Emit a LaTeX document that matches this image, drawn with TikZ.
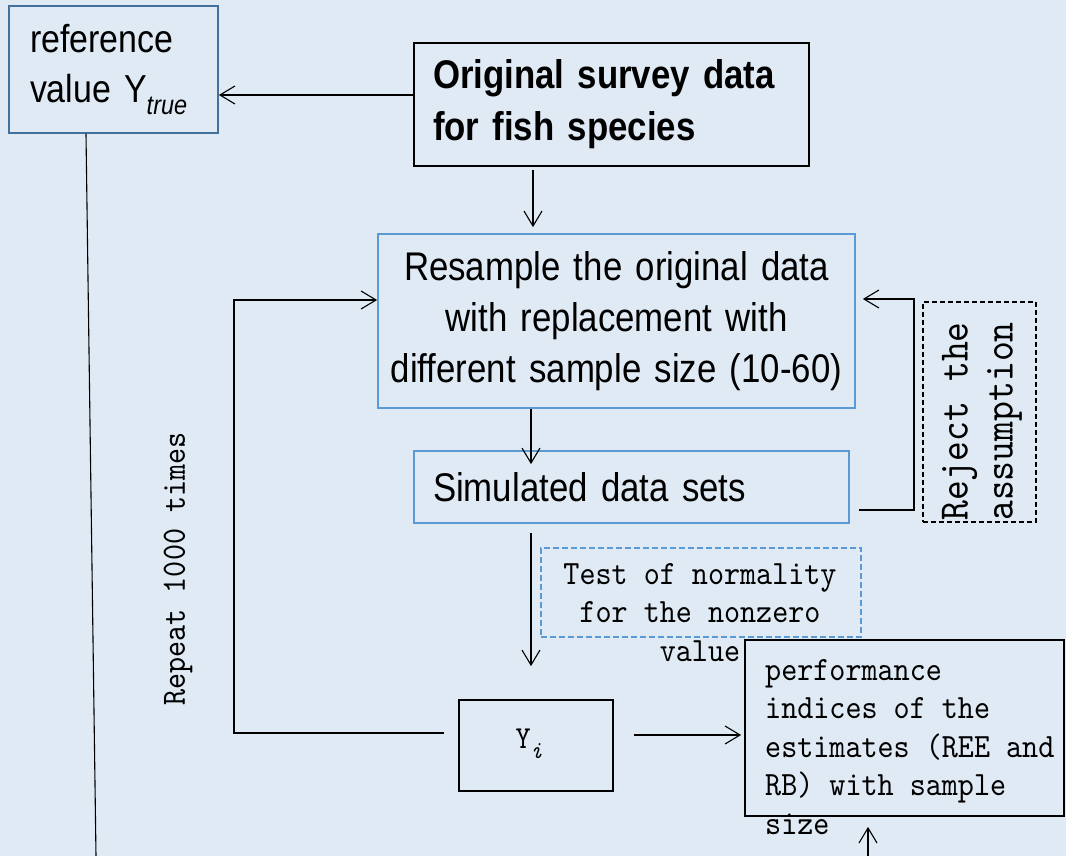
\documentclass[tikz,border=0pt]{standalone}
\usepackage{fontspec}
\setmainfont{Liberation Sans}
\newfontfamily\ns{Liberation Sans}[FakeStretch=0.87]
\newfontfamily\mo{lmmono10-regular.otf}[ItalicFont=lmmono10-italic.otf, FakeStretch=0.9]
\usetikzlibrary{arrows.meta}
\definecolor{bg}{HTML}{E0EAF4}
\definecolor{bluebd}{HTML}{5B9BD5}
\definecolor{darkbd}{HTML}{41719C}
\begin{document}
\begin{tikzpicture}[x=1pt,y=1pt,
  arr/.style={-{Straight Barb[length=15pt,width=18pt]}, line width=1.1pt},
  ln/.style={line width=1.1pt},
  box/.style={draw, line width=1.8pt, rectangle, inner ysep=0pt},
  dbox/.style={draw, line width=1.4pt, rectangle, inner sep=0pt, dash pattern=on 6pt off 3pt},
  sans/.style={font=\ns\fontsize{40}{51}\selectfont},
  mono/.style={font=\mo\fontsize{34}{38.5}\selectfont, inner sep=0pt}
]
\useasboundingbox[fill=bg] (0,0) rectangle (1066,-856);

% boxes
\node[box, draw=darkbd, minimum width=209, minimum height=127, inner xsep=21, text width=167, align=left,
      font=\ns\fontsize{39}{50}\selectfont] (ref) at (113.5,-69.5)
      {reference\\value Y\raisebox{-0.32em}{\fontsize{27}{27}\selectfont\itshape true}};
\node[box, draw=black, minimum width=395, minimum height=123, inner xsep=19, text width=357, align=left,
      font=\ns\bfseries\fontsize{40}{52}\selectfont] (orig) at (611.5,-104.5)
      {Original survey data\\for fish species};
\node[box, draw=bluebd, minimum width=477, minimum height=174, inner xsep=10, text width=457, align=center, sans] (res) at (616.5,-321)
      {Resample the original data\\with replacement with\\different sample size (10-60)};
\node[box, draw=bluebd, minimum width=435, minimum height=72, inner xsep=19, text width=397, align=left, sans] (sim) at (631.5,-487)
      {Simulated data sets};
\node[box, draw=black, minimum width=154, minimum height=91, font=\mo\fontsize{32}{32}\selectfont] (yi) at (536,-745.5)
      {\hspace*{-14pt}\raisebox{0.4em}{Y\raisebox{-0.3em}{\fontsize{25}{25}\selectfont\itshape i}}};
\node[box, draw=black, minimum width=319, minimum height=176] (perf) at (904.5,-728) {};
\node[dbox, draw=bluebd, minimum width=320, minimum height=89] (test) at (701,-592.5) {};
\node[dbox, draw=black, minimum width=113, minimum height=220, dash pattern=on 5pt off 3pt] (rej) at (979.5,-412) {};

% texts
\node[mono, anchor=north west, align=left] (perftxt) at (765,-659)
  {performance\\indices of the\\estimates (REE and\\RB) with sample\\size};
\node[mono, anchor=north, align=center] (testtxt) at (700,-563)
  {Test of normality\\for the nonzero\\value};
\node[mono, rotate=90, align=left, font=\mo\fontsize{42}{45}\selectfont] (rejtxt) at (982,-421.5)
  {Reject the\\assumption};
\node[mono, rotate=90] (rep) at (178,-569) {Repeat 1000 times};

% helper coordinates
\coordinate (c1) at (533,0);
\coordinate (c2) at (531,0);
\coordinate (r1) at (0,-735);
\coordinate (r2) at (0,-733);
\coordinate (r3) at (0,-510);
\coordinate (lp) at (234,-300);
\coordinate (rp) at (914,-299);
\coordinate (pb) at (868,-856);
\coordinate (c86) at (86,0);
\coordinate (rb) at (96,-856);

% connectors
\draw[arr] ([yshift=9.5pt]orig.west) -- ([yshift=9.5pt]orig.west -| ref.east);
\draw[arr, shorten <=3pt, shorten >=6pt] (orig.south -| c1) -- (res.north -| c1);
\draw[arr, shorten >=-14pt] (res.south -| c2) -- (sim.north -| c2);
\draw[arr, shorten <=9pt, shorten >=33pt] (sim.south -| c2) -- (yi.north -| c2);
\draw[arr, shorten <=20pt, shorten >=3pt] (yi.east |- r1) -- (perf.west |- r1);
\draw[arr, shorten <=14pt] (yi.west |- r2) -| (lp) -- (res.west |- lp);
\draw[arr, shorten <=9pt, shorten >=7pt] (sim.east |- r3) -| (rp) -- (res.east |- rp);
\draw[arr, shorten >=10pt] (pb) -- (perf.south -| pb);
\draw[ln] (ref.south -| c86) -- (rb);
\end{tikzpicture}
\end{document}
